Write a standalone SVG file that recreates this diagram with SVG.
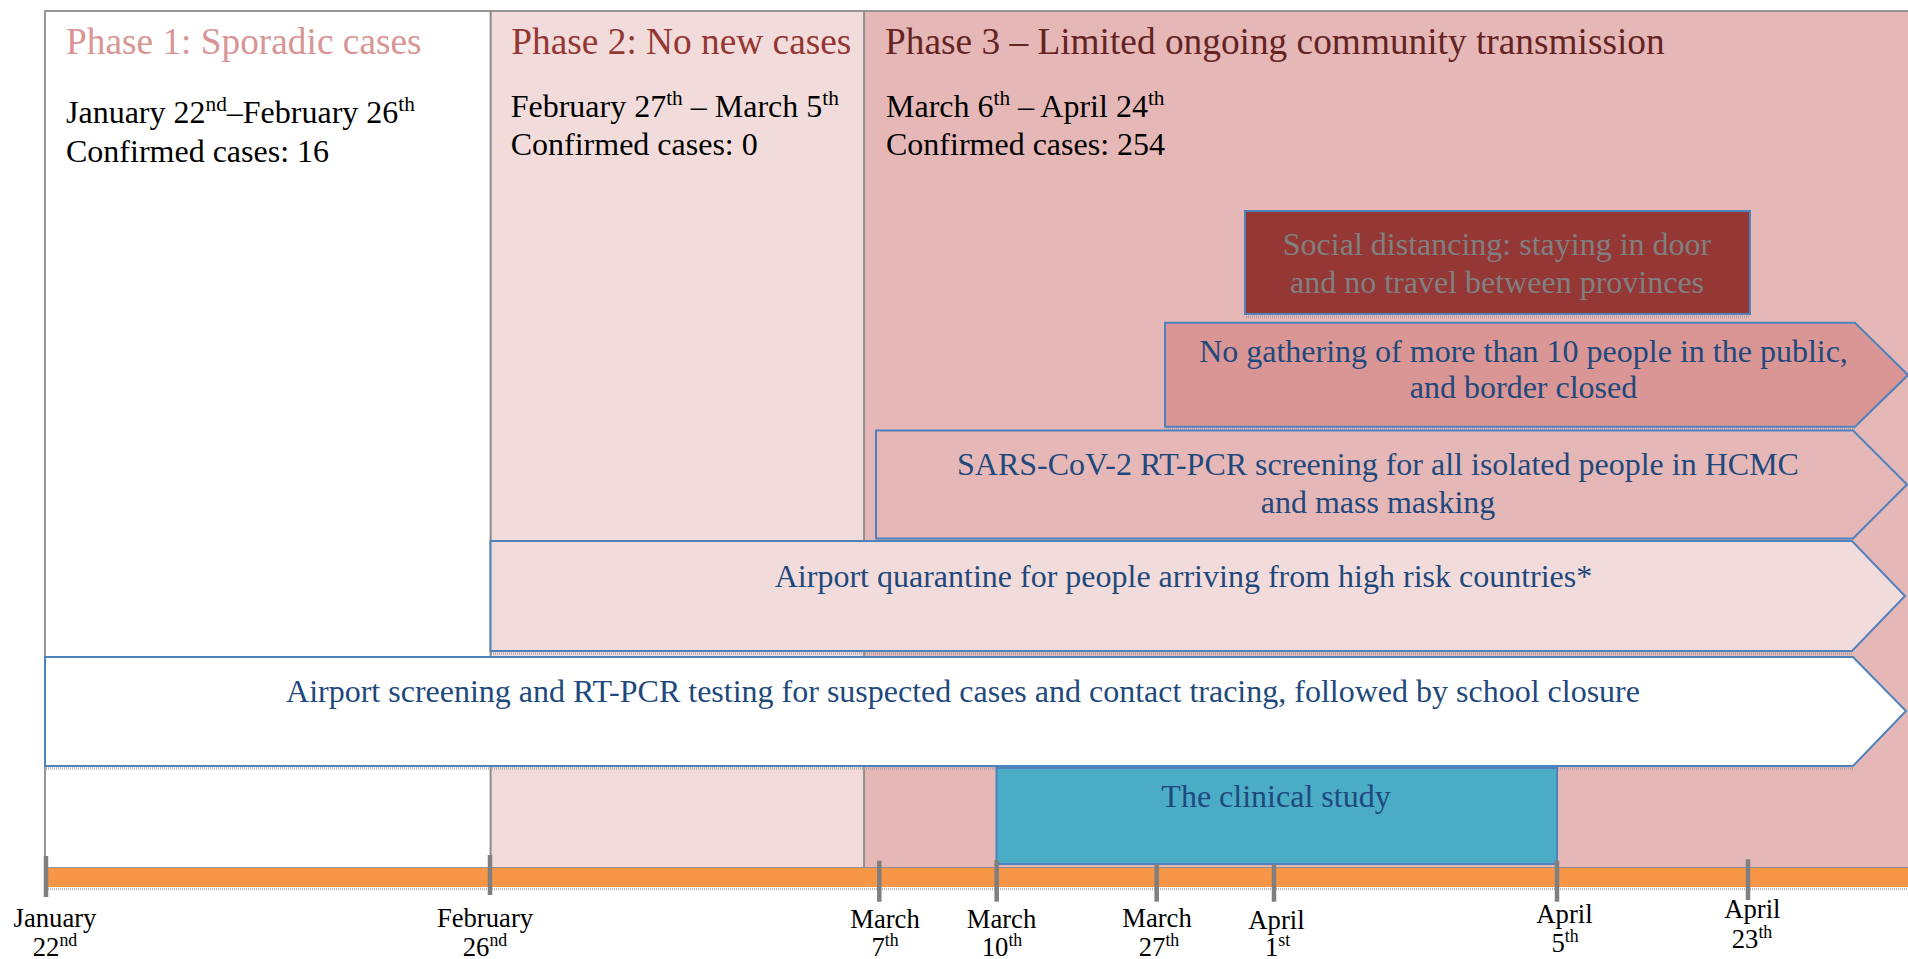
<svg xmlns="http://www.w3.org/2000/svg" width="1908" height="959" viewBox="0 0 1908 959">
<defs>
<style>
text{font-family:"Liberation Serif","Times New Roman",serif;}
.t{font-size:37.33px}
.b{font-size:32px;fill:#000}
.a{font-size:32px;fill:#1F497D;text-anchor:middle}
.g{fill:#808080}
.l{font-size:26.67px;fill:#000;text-anchor:middle}
.ph{stroke:#8c8c8c;stroke-width:1.8}
.arr{stroke:#4F81BD;stroke-width:2}
.tick{stroke:#7f7f7f;stroke-width:4.5}
.sh{stroke:#9a9a9a;stroke-width:2.5;stroke-dasharray:1 1;opacity:.7;fill:none}
</style>
</defs>
<rect width="1908" height="959" fill="#fff"/>

<g id="phase3">
<rect class="ph" x="864" y="11" width="1060" height="857" fill="#E5B8B7"/>
<text class="t" x="885" y="54" fill="#632423">Phase 3 – Limited ongoing community transmission</text>
<text class="b" x="886" y="117.3">March 6<tspan font-size="21.3" dy="-12">th</tspan><tspan dy="12"> – April 24</tspan><tspan font-size="21.3" dy="-12">th</tspan></text>
<text class="b" x="886" y="155">Confirmed cases: 254</text>
</g>

<g id="phase2">
<rect class="ph" x="490.5" y="11" width="373.5" height="857" fill="#F2DCDB"/>
<text class="t" x="511.3" y="54" fill="#943634">Phase 2: No new cases</text>
<text class="b" x="510.7" y="117.3">February 27<tspan font-size="21.3" dy="-12">th</tspan><tspan dy="12"> – March 5</tspan><tspan font-size="21.3" dy="-12">th</tspan></text>
<text class="b" x="510.7" y="155">Confirmed cases: 0</text>
</g>

<g id="phase1">
<rect class="ph" x="45" y="11" width="445.5" height="857" fill="#fff"/>
<text class="t" x="66" y="54" fill="#D99594">Phase 1: Sporadic cases</text>
<text class="b" x="66" y="123.3">January 22<tspan font-size="21.3" dy="-12">nd</tspan><tspan dy="12">–February 26</tspan><tspan font-size="21.3" dy="-12">th</tspan></text>
<text class="b" x="66" y="162.3">Confirmed cases: 16</text>
</g>

<g id="social-distancing">
<line class="sh" x1="1246" y1="317" x2="1750" y2="317"/>
<rect class="arr" x="1245" y="211" width="505" height="103" fill="#953735"/>
<text class="a g" x="1497" y="255" style="fill:#808080">Social distancing: staying in door</text>
<text class="a g" x="1497" y="293" style="fill:#808080">and no travel between provinces</text>
</g>

<g id="no-gathering">
<line class="sh" x1="1166" y1="429" x2="1855" y2="429"/>
<polygon class="arr" points="1165,322.7 1855,322.7 1908,375 1855,426.7 1165,426.7" fill="#D99694"/>
<text class="a" x="1523.5" y="361.7">No gathering of more than 10 people in the public,</text>
<text class="a" x="1523.5" y="398.3">and border closed</text>
</g>

<g id="sars-screening">
<line class="sh" x1="877" y1="540.5" x2="1853" y2="540.5"/>
<polygon class="arr" points="876,430.5 1853,430.5 1907,484.5 1853,538.5 876,538.5" fill="#E5B8B7"/>
<text class="a" x="1378" y="475">SARS-CoV-2 RT-PCR screening for all isolated people in HCMC</text>
<text class="a" x="1378" y="512.5">and mass masking</text>
</g>

<g id="airport-quarantine">
<line class="sh" x1="491" y1="653.5" x2="1852" y2="653.5"/>
<polygon class="arr" points="490.5,541 1852,541 1905,596 1852,651 490.5,651" fill="#F2DCDB"/>
<text class="a" x="1183.5" y="586.7">Airport quarantine for people arriving from high risk countries*</text>
</g>

<g id="airport-screening">
<line class="sh" x1="46" y1="768.5" x2="1853" y2="768.5"/>
<polygon class="arr" points="45,657 1853,657 1906,711 1853,766 45,766" fill="#fff"/>
<text class="a" x="963" y="701.7">Airport screening and RT-PCR testing for suspected cases and contact tracing, followed by school closure</text>
</g>

<g id="clinical-study">
<rect class="arr" x="996.5" y="768" width="560.5" height="96" fill="#4BACC6"/>
<text class="a" x="1276" y="806.7">The clinical study</text>
</g>

<g id="timeline">
<rect x="46" y="868" width="1862" height="19" fill="#F79646"/>
<line class="sh" x1="46" y1="889" x2="1908" y2="889"/>
<line class="tick" x1="46" y1="856" x2="46" y2="897"/>
<line class="tick" x1="490" y1="855" x2="490" y2="895"/>
<line class="tick" x1="879.3" y1="860.7" x2="879.3" y2="901.7"/>
<line class="tick" x1="996.7" y1="860" x2="996.7" y2="901.7"/>
<line class="tick" x1="1156.7" y1="864" x2="1156.7" y2="901.7"/>
<line class="tick" x1="1274" y1="864" x2="1274" y2="901.7"/>
<line class="tick" x1="1557" y1="860.7" x2="1557" y2="901.7"/>
<line class="tick" x1="1748" y1="859.3" x2="1748" y2="900"/>
<text class="l" x="55" y="927.3">January</text>
<text class="l" x="55" y="955.5">22<tspan font-size="17.8" dy="-10">nd</tspan></text>
<text class="l" x="485" y="927">February</text>
<text class="l" x="485" y="955.5">26<tspan font-size="17.8" dy="-10">nd</tspan></text>
<text class="l" x="885" y="928">March</text>
<text class="l" x="885" y="956">7<tspan font-size="17.8" dy="-10">th</tspan></text>
<text class="l" x="1001.5" y="928">March</text>
<text class="l" x="1002" y="956">10<tspan font-size="17.8" dy="-10">th</tspan></text>
<text class="l" x="1157" y="927.3">March</text>
<text class="l" x="1159" y="955.5">27<tspan font-size="17.8" dy="-10">th</tspan></text>
<text class="l" x="1276.5" y="928.5">April</text>
<text class="l" x="1277.5" y="956">1<tspan font-size="17.8" dy="-10">st</tspan></text>
<text class="l" x="1564.5" y="922.7">April</text>
<text class="l" x="1565" y="951.7">5<tspan font-size="17.8" dy="-10">th</tspan></text>
<text class="l" x="1752.4" y="918.3">April</text>
<text class="l" x="1752" y="948.3">23<tspan font-size="17.8" dy="-10">th</tspan></text>
</g>
</svg>
